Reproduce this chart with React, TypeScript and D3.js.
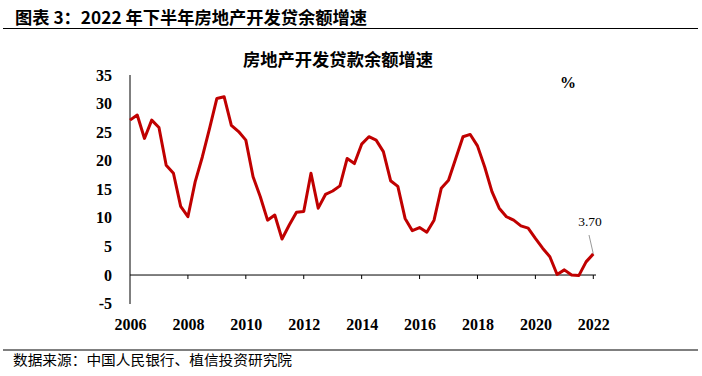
import React from "react";
import * as d3 from "d3";

// Quarterly growth of real-estate development loan balance (%), 2006 .. 2022
const growthValues: number[] = [
  27.1, 28.0, 23.9, 27.1, 25.8, 19.2, 17.8, 12.0,
  10.2, 16.3, 20.7, 25.7, 30.9, 31.2, 26.2, 25.1,
  23.6, 17.2, 13.7, 9.6, 10.5, 6.3, 8.75, 11.0,
  11.1, 17.8, 11.7, 14.1, 14.7, 15.6, 20.4, 19.5,
  22.9, 24.2, 23.6, 21.6, 16.5, 15.5, 9.9, 7.75,
  8.3, 7.5, 9.6, 15.2, 16.6, 20.4, 24.2, 24.6,
  22.6, 18.9, 14.6, 11.7, 10.2, 9.6, 8.6, 8.2,
  6.4, 4.7, 3.2, 0.1, 0.9, 0.0, -0.1, 2.3,
  3.7,
];
const yearLabels: string[] = ["2006", "2008", "2010", "2012", "2014", "2016", "2018", "2020", "2022"];
const yTicks: number[] = [-5, 0, 5, 10, 15, 20, 25, 30, 35];
const lastLabel = "3.70";

const mainTitle = "图表 3：2022 年下半年房地产开发贷余额增速";
const chartTitle = "房地产开发贷款余额增速";
const unitLabel = "%";
const sourceText = "数据来源：中国人民银行、植信投资研究院";

export default function App() {
  const W = 702;
  const H = 376;
  const x = d3.scaleLinear().domain([0, growthValues.length - 1]).range([130, 593.3]);
  const y = d3.scaleLinear().domain([-5, 35]).range([303.6, 75]);
  const line = d3
    .line<number>()
    .x((_, i) => x(i))
    .y((d) => y(d))
    .curve(d3.curveLinear);
  const lastI = growthValues.length - 1;
  const lx = x(lastI);
  const ly = y(growthValues[lastI]);
  const serif = "'Liberation Serif', 'Times New Roman', serif";
  const cjk = "'Noto Sans CJK SC', sans-serif";

  return (
    <svg
      width={W}
      height={H}
      style={{ position: "absolute", left: 0, top: 0, background: "#fff" }}
    >
      <text x={15} y={23.5} fontFamily={cjk} fontWeight={700} fontSize={17} textLength={352} lengthAdjust="spacingAndGlyphs" fill="#000">
        {mainTitle}
      </text>
      <line x1={3} x2={698} y1={28.5} y2={28.5} stroke="#000" strokeWidth={1.2} />

      <text x={338} y={66} textAnchor="middle" fontFamily={cjk} fontWeight={700} fontSize={17} textLength={190} lengthAdjust="spacingAndGlyphs" fill="#000">
        {chartTitle}
      </text>
      <text x={568} y={88} textAnchor="middle" fontFamily={serif} fontWeight={700} fontSize={16} fill="#000">
        {unitLabel}
      </text>

      {/* y axis */}
      <line x1={130} x2={130} y1={75} y2={304} stroke="#000" strokeWidth={1} />
      {yTicks.map((t) => (
        <text key={t} x={112} y={y(t)} dy="0.35em" textAnchor="end" fontFamily={serif} fontWeight={700} fontSize={16} fill="#000">
          {t}
        </text>
      ))}

      {/* x axis at zero */}
      <line x1={130} x2={596} y1={y(0)} y2={y(0)} stroke="#000" strokeWidth={1} />
      {yearLabels.map((lab, k) => {
        const xi = x(k * 8);
        return (
          <g key={lab}>
            {k > 0 && <line x1={xi} x2={xi} y1={y(0)} y2={y(0) + 4} stroke="#000" strokeWidth={1} />}
            <text x={xi + 0.5} y={324} dy="0.35em" textAnchor="middle" fontFamily={serif} fontWeight={700} fontSize={16} fill="#000">
              {lab}
            </text>
          </g>
        );
      })}

      <path d={line(growthValues) || ""} fill="none" stroke="#C00000" strokeWidth={3} strokeLinejoin="round" />

      <line x1={589} y1={235} x2={lx} y2={ly} stroke="#999" strokeWidth={1} />
      <text x={590} y={221} dy="0.35em" textAnchor="middle" fontFamily={serif} fontSize={13.5} fill="#000">
        {lastLabel}
      </text>

      <line x1={3} x2={698} y1={350} y2={350} stroke="#000" strokeWidth={1.2} />
      <text x={13} y={365} fontFamily={cjk} fontSize={14} textLength={279} lengthAdjust="spacingAndGlyphs" fill="#000">
        {sourceText}
      </text>
    </svg>
  );
}
